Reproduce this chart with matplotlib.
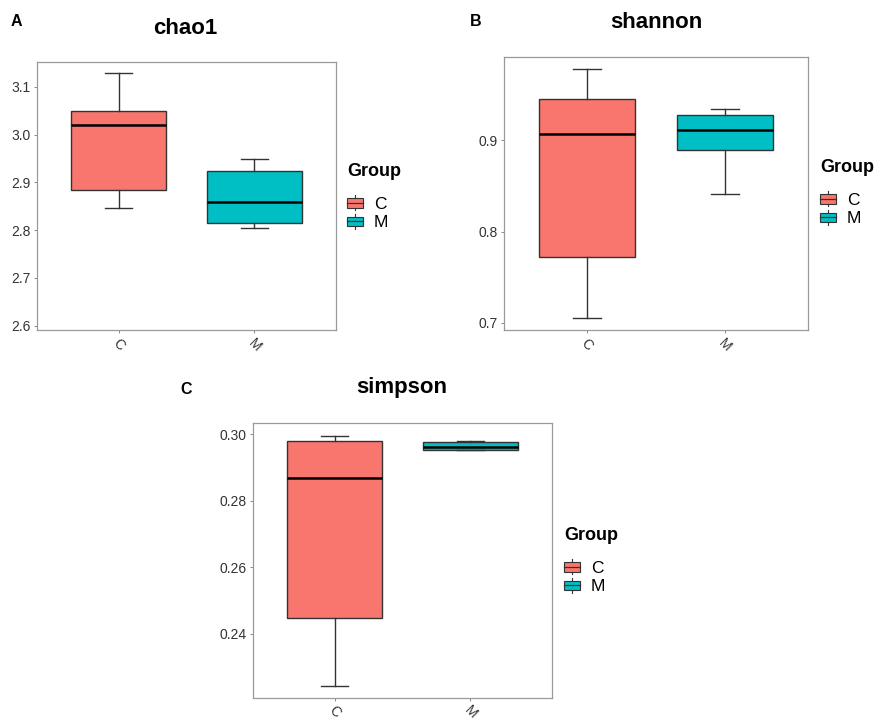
import matplotlib
matplotlib.use("Agg")
import matplotlib.pyplot as plt
from matplotlib.patches import Rectangle, Patch
from matplotlib.lines import Line2D
from matplotlib.legend_handler import HandlerBase

plt.rcParams['font.family'] = ['Liberation Sans', 'DejaVu Sans']

groups = ['C', 'M']
colors = ['#F8766D', '#00BFC4']

# box stats per group: whislo, q1, med, q3, whishi
chao1_C = [2.847, 2.885, 3.020, 3.049, 3.128]
chao1_M = [2.804, 2.814, 2.859, 2.924, 2.948]
shannon_C = [0.7057, 0.7725, 0.907, 0.945, 0.978]
shannon_M = [0.841, 0.8897, 0.9116, 0.928, 0.934]
simpson_C = [0.2243, 0.2447, 0.2868, 0.2980, 0.2995]
simpson_M = [0.2952, 0.2953, 0.2963, 0.2976, 0.2981]

chao1_ticks = [2.6, 2.7, 2.8, 2.9, 3.0, 3.1]
shannon_ticks = [0.7, 0.8, 0.9]
simpson_ticks = [0.24, 0.26, 0.28, 0.30]

W, H = 875, 720
fig = plt.figure(figsize=(W / 100, H / 100), dpi=100)


def px_axes(left, top, right, bottom):
    return fig.add_axes([left / W, 1 - bottom / H, (right - left) / W, (bottom - top) / H])


class BoxKey(HandlerBase):
    # little boxplot glyph like ggplot's legend key
    def create_artists(self, legend, orig, xd, yd, w, h, fontsize, trans):
        x0, y0 = -xd, -yd
        r = Rectangle((x0, y0 + h * 0.18), w, h * 0.64, fc=orig.get_facecolor(),
                      ec='#333333', lw=0.8, transform=trans)
        m = Line2D([x0, x0 + w], [y0 + h / 2] * 2, color='#333333', lw=0.9, transform=trans)
        lo = Line2D([x0 + w / 2] * 2, [y0, y0 + h * 0.18], color='#333333', lw=0.8, transform=trans)
        hi = Line2D([x0 + w / 2] * 2, [y0 + h * 0.82, y0 + h], color='#333333', lw=0.8, transform=trans)
        return [r, m, lo, hi]


def panel(ax, stats_c, stats_m, ylim, ticks, fmt, title, letter, title_xy, letter_xy, leg_xy, xpad=2):
    stats = []
    for g, s in zip(groups, [stats_c, stats_m]):
        stats.append(dict(label=g, whislo=s[0], q1=s[1], med=s[2], q3=s[3], whishi=s[4], fliers=[]))
    bp = ax.bxp(stats, positions=[1, 2], widths=0.7, capwidths=0.2, patch_artist=True,
                showfliers=False,
                boxprops=dict(edgecolor='#333333', linewidth=1.0),
                whiskerprops=dict(color='#333333', linewidth=1.0),
                capprops=dict(color='#333333', linewidth=1.0),
                medianprops=dict(color='black', linewidth=1.8))
    for patch, c in zip(bp['boxes'], colors):
        patch.set_facecolor(c)
    ax.set_xlim(0.4, 2.6)
    ax.set_ylim(*ylim)
    ax.set_yticks(ticks)
    ax.set_yticklabels([fmt % t for t in ticks])
    ax.set_xticks([1, 2])
    ax.set_xticklabels(groups, rotation=-45, ha='center', va='top')
    ax.tick_params(length=2.5, width=0.7, color='#888888', labelsize=10, labelcolor='#333333', pad=2)
    ax.tick_params(axis='x', pad=xpad)
    for sp in ax.spines.values():
        sp.set_color('#999999')
        sp.set_linewidth(0.9)
    fig.text(title_xy[0] / W, 1 - title_xy[1] / H, title, fontsize=16, fontweight='bold',
             ha='center', va='center')
    fig.text(letter_xy[0] / W, 1 - letter_xy[1] / H, letter, fontsize=11.5, fontweight='bold',
             ha='center', va='center')
    handles = [Patch(facecolor=c, label=g) for g, c in zip(groups, colors)]
    leg = fig.legend(handles=handles, loc='upper left',
                     bbox_to_anchor=(leg_xy[0] / W, 1 - leg_xy[1] / H),
                     title='Group', frameon=False, fontsize=12.5,
                     title_fontproperties=dict(size=13, weight='bold'),
                     handler_map={Patch: BoxKey()}, handlelength=0.95, handleheight=0.95,
                     handletextpad=0.6, labelspacing=0.12, borderpad=0, borderaxespad=0)
    leg._legend_box.align = 'left'
    leg._legend_box.sep = 11


axA = px_axes(37, 62, 336, 330)
panel(axA, chao1_C, chao1_M, (2.591, 3.152), chao1_ticks, '%.1f', 'chao1', 'A',
      (185, 28), (16, 21), (347, 163))

axB = px_axes(504, 57, 808, 330)
panel(axB, shannon_C, shannon_M, (0.6923, 0.991), shannon_ticks, '%.1f', 'shannon', 'B',
      (656, 23), (476, 21), (820, 159))

axC = px_axes(253, 423, 552, 698)
panel(axC, simpson_C, simpson_M, (0.2207, 0.3034), simpson_ticks, '%.2f', 'simpson', 'C',
      (402, 388), (186, 389), (564, 527), xpad=1)

fig.savefig('out.png', dpi=100)
